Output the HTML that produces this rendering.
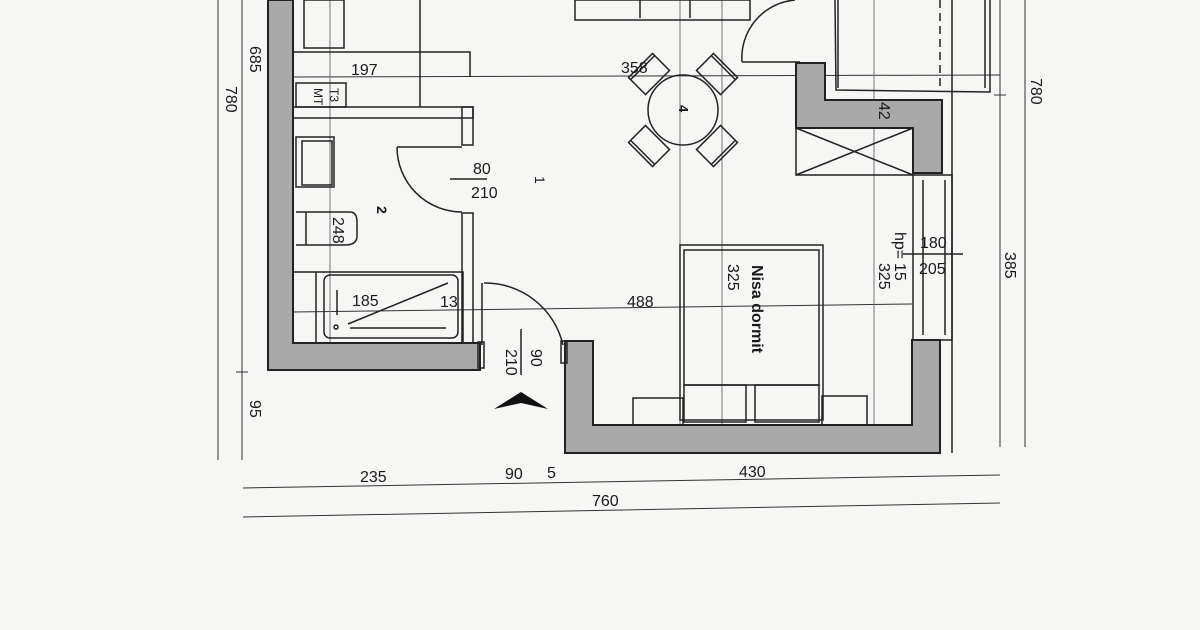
<!DOCTYPE html>
<html><head><meta charset="utf-8"><style>
html,body{margin:0;padding:0;background:#f6f6f5;}
svg{display:block}
text{font-family:"Liberation Sans",sans-serif;fill:#1a1a1a}
</style></head><body>
<svg width="1200" height="630" viewBox="0 0 1200 630" xmlns="http://www.w3.org/2000/svg">
<rect width="1200" height="630" fill="#f6f6f5"/>
<g stroke="#333" stroke-width="1" fill="none">
<line x1="218" y1="0" x2="218" y2="460"/>
<line x1="242" y1="0" x2="242" y2="460"/>
<line x1="236" y1="372" x2="248" y2="372"/>
<line x1="1000" y1="0" x2="1000" y2="447"/>
<line x1="1025" y1="0" x2="1025" y2="447"/>
<line x1="994" y1="95" x2="1006" y2="95"/>
<line x1="243" y1="488" x2="1000" y2="475"/>
<line x1="243" y1="517" x2="1000" y2="503"/>
<line x1="293" y1="77" x2="1000" y2="75"/>
<line x1="293" y1="312" x2="912" y2="304"/>
<line x1="680" y1="0" x2="680" y2="430" stroke="#777"/>
<line x1="722" y1="0" x2="722" y2="425" stroke="#777"/>
<line x1="874" y1="0" x2="874" y2="425" stroke="#777"/>
<line x1="330" y1="0" x2="330" y2="345" stroke="#777"/>
</g>
<g fill="#a9a9a9" stroke="#222" stroke-width="2">
<path d="M268 0 L293 0 L293 343 L480 343 L480 370 L268 370 Z"/>
<path d="M565 341 L593 341 L593 425 L912 425 L912 340 L940 340 L940 453 L565 453 Z"/>
<path d="M796 63 L825 63 L825 100 L942 100 L942 173 L913 173 L913 128 L796 128 Z"/>
</g>
<g stroke="#222" stroke-width="1.5" fill="none">
<rect x="293" y="107" width="180" height="11"/>
<rect x="462" y="107" width="11" height="38"/>
<rect x="462" y="213" width="11" height="130"/>
<path d="M397 147 L462 147 M397 147 A65 65 0 0 0 462 212"/>
<line x1="482" y1="283" x2="482" y2="345"/>
<path d="M484 283 A80 80 0 0 1 563 345"/>
<rect x="478" y="342" width="6" height="26"/>
<rect x="561" y="341" width="6" height="22"/>
<rect x="913" y="175" width="39" height="165"/>
<line x1="923" y1="180" x2="923" y2="335"/>
<line x1="945" y1="180" x2="945" y2="335"/>
<line x1="952" y1="0" x2="952" y2="453"/>
<rect x="796" y="128" width="117" height="47"/>
<path d="M796 128 L913 175 M913 128 L796 175"/>
<path d="M835 0 L836 90 L990 92 L990 0"/>
<path d="M838 0 L838 88"/>
<path d="M940 0 L940 88" stroke-dasharray="8 5"/>
<path d="M985 0 L985 88"/>
<path d="M742 62 L800 62 M742 62 A58 58 0 0 1 795 0"/>
<rect x="575" y="0" width="175" height="20"/>
<line x1="640" y1="0" x2="640" y2="18"/><line x1="690" y1="0" x2="690" y2="18"/>
<path d="M293 52 L420 52 L420 0 M420 52 L470 52 L470 77"/>
<rect x="304" y="0" width="40" height="48"/>
<rect x="296" y="83" width="50" height="24"/>
<line x1="420" y1="52" x2="420" y2="107"/>
<rect x="296" y="137" width="38" height="50"/>
<rect x="302" y="141" width="30" height="44"/>
<path d="M296 212 L330 212 L350 212 Q357 212 357 222 L357 236 Q357 245 345 245 L296 245"/>
<line x1="306" y1="212" x2="306" y2="245"/>
<rect x="293" y="272" width="170" height="71"/>
<rect x="324" y="275" width="134" height="63" rx="6"/>
<line x1="316" y1="272" x2="316" y2="343"/>
<path d="M348 324 L448 283 M350 328 L446 328 M337 290 L337 315"/>
<circle cx="336" cy="327" r="2"/>
<circle cx="683" cy="110" r="35"/>
<g transform="translate(649 74) rotate(-45)"><rect x="-17" y="-12" width="34" height="24"/><line x1="-17" y1="-9" x2="17" y2="-9"/></g>
<g transform="translate(717 74) rotate(45)"><rect x="-17" y="-12" width="34" height="24"/><line x1="-17" y1="-9" x2="17" y2="-9"/></g>
<g transform="translate(649 146) rotate(45)"><rect x="-17" y="-12" width="34" height="24"/><line x1="-17" y1="9" x2="17" y2="9"/></g>
<g transform="translate(717 146) rotate(-45)"><rect x="-17" y="-12" width="34" height="24"/><line x1="-17" y1="9" x2="17" y2="9"/></g>
<rect x="680" y="245" width="143" height="175"/>
<rect x="684" y="250" width="135" height="135"/>
<rect x="684" y="385" width="62" height="37"/>
<rect x="755" y="385" width="64" height="37"/>
<rect x="633" y="398" width="50" height="27"/>
<rect x="822" y="396" width="45" height="29"/>
<line x1="450" y1="179" x2="487" y2="179"/>
<line x1="521" y1="329" x2="521" y2="375"/>
<line x1="903" y1="254" x2="963" y2="254"/>
</g>
<path d="M494 409 L521 392 L548 409 L521 403 Z" fill="#111"/>
<g font-size="16">
<text x="351" y="75">197</text>
<text x="621" y="73">358</text>
<text x="473" y="174">80</text>
<text x="471" y="198">210</text>
<text transform="translate(535 176) rotate(90)" font-size="14">1</text>
<text transform="translate(377 206) rotate(90)" font-size="14" font-weight="bold">2</text>
<text x="352" y="306">185</text>
<text x="440" y="307">13</text>
<text x="627" y="307">488</text>
<text x="360" y="482">235</text>
<text x="505" y="479">90</text>
<text x="547" y="478">5</text>
<text x="739" y="477">430</text>
<text x="592" y="506">760</text>
<text transform="translate(879 102) rotate(90)">42</text>
<text transform="translate(679 105) rotate(90)" font-size="13" font-weight="bold">4</text>
<text transform="translate(531 349) rotate(90)">90</text>
<text transform="translate(506 349) rotate(90)">210</text>
<text transform="translate(333 217) rotate(90)">248</text>
<text transform="translate(250 46) rotate(90)">685</text>
<text transform="translate(226 86) rotate(90)">780</text>
<text transform="translate(250 400) rotate(90)">95</text>
<text transform="translate(1031 78) rotate(90)">780</text>
<text transform="translate(1005 252) rotate(90)">385</text>
<text transform="translate(728 264) rotate(90)">325</text>
<text transform="translate(879 263) rotate(90)">325</text>
<text transform="translate(895 232) rotate(90)">hp=</text>
<text transform="translate(895 263) rotate(90)">15</text>
<text transform="translate(752 265) rotate(90)" font-weight="bold">Nisa dormit</text>
<text transform="translate(314 88) rotate(90)" font-size="12">MT</text>
<text transform="translate(330 88) rotate(90)" font-size="12">T3</text>
<text x="920" y="248">180</text>
<text x="919" y="274">205</text>
</g>
</svg>
</body></html>
